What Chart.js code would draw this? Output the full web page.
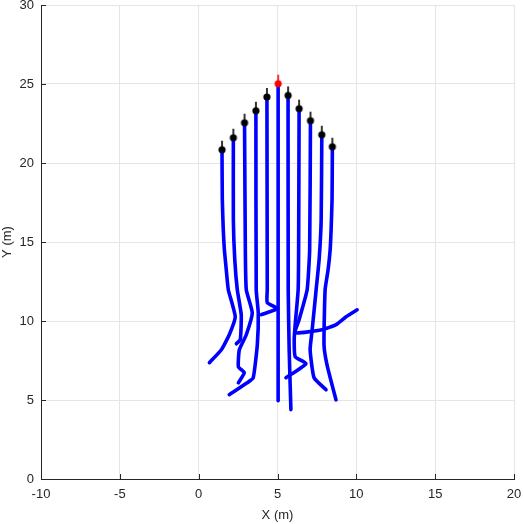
<!DOCTYPE html>
<html>
<head>
<meta charset="utf-8">
<script src="https://cdn.jsdelivr.net/npm/chart.js@4.4.1/dist/chart.umd.min.js"></script>
<style>
  html, body { margin: 0; padding: 0; background: #fff; }
  canvas { display: block; }
</style>
</head>
<body>
<canvas id="chart" width="524" height="524"></canvas>
<script>
// trayectorias: el primer punto es la posicion actual, luego la estela hacia abajo
const trailsX = [
    [1.48, 1.50, 1.56, 1.63, 1.75, 1.88, 2.32, 1.94, 1.44, 0.68],
    [2.20, 2.20, 2.29, 2.45, 2.70, 2.64, 2.39],
    [2.91, 2.96, 3.02, 3.40, 3.02, 2.58, 2.52, 2.89, 2.52],
    [3.63, 3.65, 3.78, 3.72, 3.46, 3.08, 1.94],
    [4.33, 4.35, 4.35, 4.98, 3.97],
    [5.04, 5.04],
    [5.67, 5.68, 5.74, 5.85],
    [6.37, 6.34, 6.31, 6.12, 6.06, 6.12, 6.80, 5.54],
    [7.09, 7.04, 6.88, 6.37, 6.12, 7.83, 8.72, 9.35, 10.05],
    [7.81, 7.77, 7.64, 7.45, 7.20, 7.07, 7.32, 8.08],
    [8.48, 8.46, 8.40, 8.34, 8.21, 8.02, 7.95, 8.14, 8.71]
];
const trailsY = [
    [20.84, 17.68, 15.78, 14.51, 13.25, 11.98, 10.27, 9.13, 8.18, 7.36],
    [21.60, 16.41, 13.88, 11.98, 10.40, 8.82, 8.56],
    [22.55, 14.51, 11.98, 10.52, 9.13, 8.18, 7.10, 6.73, 6.09],
    [23.31, 11.98, 10.52, 8.50, 6.41, 6.09, 5.34],
    [24.18, 11.98, 11.16, 10.78, 10.40],
    [25.02, 4.96],
    [24.28, 11.98, 8.18, 4.39],
    [23.44, 14.51, 11.98, 9.76, 8.82, 7.74, 7.30, 6.41],
    [22.68, 14.51, 11.98, 10.08, 9.26, 9.45, 9.77, 10.27, 10.71],
    [21.79, 16.41, 13.88, 11.98, 9.45, 8.18, 6.41, 5.65],
    [21.03, 17.68, 15.78, 14.51, 13.25, 11.98, 8.50, 7.23, 5.01]
];
const leader = 5; // el del medio va en rojo
const xTicks = [-10, -5, 0, 5, 10, 15, 20];
const yTicks = [0, 5, 10, 15, 20, 25, 30];

const ink = '#262626';

// marcador: circulo con una rayita hacia arriba
function marcador(color) {
    const c = document.createElement('canvas');
    c.width = 10; c.height = 24;
    const g = c.getContext('2d');
    g.strokeStyle = color; g.lineWidth = 1.6;
    g.beginPath(); g.moveTo(5, 12); g.lineTo(5, 3); g.stroke();
    g.fillStyle = color;
    g.beginPath(); g.arc(5, 12, 3.6, 0, Math.PI * 2); g.fill();
    return c;
}

const datasets = [];
// posiciones actuales (encima de todo)
datasets.push({
    data: trailsX.map((xs, i) => ({ x: xs[0], y: trailsY[i][0] })).filter((p, i) => i !== leader),
    showLine: false,
    pointStyle: marcador('#000000'),
    order: 0
});
datasets.push({
    data: [{ x: trailsX[leader][0], y: trailsY[leader][0] }],
    showLine: false,
    pointStyle: marcador('#ff0000'),
    order: 0
});
trailsX.forEach((xs, i) => {
    datasets.push({
        data: xs.map((v, k) => ({ x: v, y: trailsY[i][k] })),
        showLine: true,
        borderColor: '#0000ff',
        borderWidth: 3.6,
        tension: 0.15,
        pointRadius: 0,
        borderCapStyle: 'round',
        borderJoinStyle: 'round',
        order: 1
    });
});

// ticks hacia adentro, estilo matlab
const ticksDentro = {
    id: 'ticksDentro',
    beforeDatasetsDraw(chart) {
        const { ctx, chartArea: { left, bottom }, scales: { x, y } } = chart;
        ctx.save();
        ctx.strokeStyle = ink;
        ctx.lineWidth = 1;
        ctx.beginPath();
        x.ticks.forEach(t => {
            const px = Math.round(x.getPixelForValue(t.value)) + 0.5;
            ctx.moveTo(px, bottom); ctx.lineTo(px, bottom - 5);
        });
        y.ticks.forEach(t => {
            const py = Math.round(y.getPixelForValue(t.value)) + 0.5;
            ctx.moveTo(left, py); ctx.lineTo(left + 5, py);
        });
        ctx.stroke();
        ctx.restore();
    }
};

Chart.defaults.font.family = "'Liberation Sans', Arial, sans-serif";
Chart.defaults.font.size = 13;
Chart.defaults.color = ink;

const config = {
    type: 'scatter',
    data: { datasets },
    options: {
        responsive: false,
        animation: false,
        devicePixelRatio: 1,
        layout: { padding: { top: 5, right: 10, left: 0, bottom: 0 } },
        plugins: { legend: { display: false }, tooltip: { enabled: false } },
        scales: {
            x: {
                type: 'linear',
                min: -10, max: 20,
                afterBuildTicks: s => { s.ticks = xTicks.map(v => ({ value: v })); },
                afterFit: s => { s.height = 45; s.paddingLeft = 0; s.paddingRight = 0; },
                ticks: { padding: 8, maxRotation: 0 },
                grid: { color: '#e5e5e5', drawTicks: false },
                border: { color: ink, width: 1 },
                title: { display: true, text: 'X (m)', padding: { top: 0, bottom: 1 } }
            },
            y: {
                type: 'linear',
                min: 0, max: 30,
                afterBuildTicks: s => { s.ticks = yTicks.map(v => ({ value: v })); },
                afterFit: s => { s.width = 41; s.paddingTop = 0; s.paddingBottom = 0; },
                ticks: { padding: 7 },
                grid: { color: '#e5e5e5', drawTicks: false },
                border: { color: ink, width: 1 },
                title: { display: true, text: 'Y (m)', padding: { top: 0, bottom: 0 } }
            }
        }
    },
    plugins: [ticksDentro]
};
var myChart = new Chart(document.getElementById('chart'), config);
</script>
</body>
</html>
